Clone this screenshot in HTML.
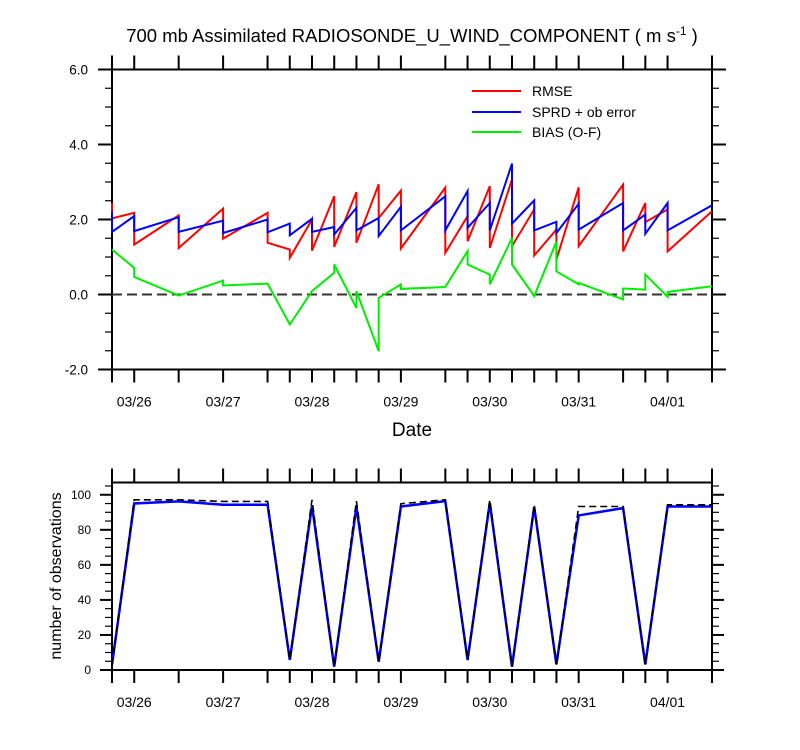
<!DOCTYPE html>
<html><head><meta charset="utf-8"><style>
html,body{margin:0;padding:0;background:#fff;}
svg{display:block;font-family:"Liberation Sans",sans-serif;}
</style></head><body>
<svg id="chart" width="800" height="750" viewBox="0 0 800 750"></svg>
<script>
// Data (hours since 03/25 18Z)
const times = [0,6,18,30,42,48,54,60,66,72,78,90,96,102,108,114,120,126,138,144,150,162];
const rmseIn  = [2.44,2.18,2.11,2.29,2.18,1.2,2.0,2.62,2.73,2.94,2.77,2.85,2.09,2.89,3.07,2.27,1.73,2.86,2.93,2.44,2.27,2.22];
const rmseOut = [2.03,1.33,1.24,1.49,1.38,0.98,1.17,1.27,1.38,2.04,1.23,1.11,1.42,1.24,1.29,1.04,0.93,1.29,1.15,1.93,1.15,2.22];
const sprdIn  = [2.22,2.09,2.06,1.97,2.0,1.89,2.02,1.8,2.31,2.04,2.34,2.62,2.76,2.44,3.49,2.51,1.94,2.42,2.44,2.13,2.44,2.38];
const sprdOut = [1.67,1.69,1.67,1.64,1.66,1.58,1.67,1.6,1.71,1.56,1.71,1.71,1.78,1.71,1.89,1.71,1.64,1.73,1.71,1.62,1.71,2.38];
const biasIn  = [1.2,0.71,-0.03,0.37,0.29,-0.8,0.09,0.58,-0.36,-1.51,0.27,0.2,1.16,0.53,1.51,-0.04,1.41,0.27,-0.13,0.13,-0.06,0.22];
const biasOut = [1.2,0.47,-0.03,0.24,0.29,-0.8,0.09,0.8,0.09,-0.09,0.15,0.2,0.8,0.27,0.8,-0.04,0.62,0.31,0.16,0.53,0.07,0.22];
const obsUsed = [3,95,96.2,94.3,94.3,5.7,93.9,1.9,93,4.7,93.3,96.4,5.7,95.4,1.9,93,3.2,88.2,92.4,3.2,93.3,93.3];
const obsPoss = [3,97.1,97.1,96.2,96.2,5.7,97.1,1.9,96.4,4.7,94.9,97.1,5.7,97.1,1.9,94.3,3.2,93.3,93.3,3.2,94.3,94.3];
const yTicksTop = [-2,0,2,4,6];
const yTicksBot = [0,20,40,60,80,100];
const dateLabels = ["03/26","03/27","03/28","03/29","03/30","03/31","04/01"];
const dateHours = [6,30,54,78,102,126,150];

const svg = document.getElementById('chart');
const NS = "http://www.w3.org/2000/svg";
function el(tag, attrs, parent){ const e=document.createElementNS(NS,tag); for(const k in attrs) e.setAttribute(k,attrs[k]); (parent||svg).appendChild(e); return e; }

const X0=112, X1=712, TMAX=162;
const xs = t => X0 + (X1-X0)*t/TMAX;
const T_TOP=69.5, T_BOT=369.5, T_MIN=-2, T_MAX=6;
const yt = v => T_BOT - (v-T_MIN)/(T_MAX-T_MIN)*(T_BOT-T_TOP);
const B_TOP=482.5, B_BOT=670, B_MAX=107;
const yb = v => B_BOT - v/B_MAX*(B_BOT-B_TOP);

// Title
let t = el('text',{x:412,y:42,'text-anchor':'middle','font-size':18.5,fill:'#000'});


t.innerHTML = '700 mb Assimilated RADIOSONDE_U_WIND_COMPONENT ( m s<tspan dy="-7" font-size="12">-1</tspan><tspan dy="7"> )</tspan>';

function frame(top,bot,name){
  const r = el('rect',{x:X0,y:top,width:X1-X0,height:bot-top,fill:'none',stroke:'#000','stroke-width':2});
  
  
  times.forEach(h=>{
    const x=xs(h);
    el('line',{x1:x,x2:x,y1:top,y2:top-14,stroke:'#000','stroke-width':2});
    el('line',{x1:x,x2:x,y1:bot,y2:bot+13,stroke:'#000','stroke-width':2});
  });
  dateHours.forEach((h,i)=>{
    const lb = el('text',{x:xs(h),y:bot+37,'text-anchor':'middle','font-size':14,fill:'#000'});
    
    
    lb.textContent = dateLabels[i];
  });
}

// ---- Top panel ----
frame(T_TOP,T_BOT,'top-plot-area');
for(let v=T_MIN; v<=T_MAX+0.001; v+=0.5){
  const y=yt(v), major = Math.abs(v%2)<0.001;
  const len = major?14:7;
  el('line',{x1:X0,x2:X0-len,y1:y,y2:y,stroke:'#000','stroke-width':major?2:1.2});
  el('line',{x1:X1,x2:X1+len,y1:y,y2:y,stroke:'#000','stroke-width':major?2:1.2});
}
yTicksTop.forEach(v=>{
  const lb=el('text',{x:88,y:yt(v)+5,'text-anchor':'end','font-size':13.5,fill:'#000'});
  
  
  lb.textContent=v.toFixed(1);
});
const zl = el('line',{x1:X0,x2:X1,y1:yt(0),y2:yt(0),stroke:'#333','stroke-width':2,'stroke-dasharray':'10,5'});



function sawPath(inA,outA){
  let d='';
  times.forEach((h,i)=>{
    const x=xs(h).toFixed(1);
    d += (i===0?'M':'L')+x+','+yt(inA[i]).toFixed(1)+' L'+x+','+yt(outA[i]).toFixed(1)+' ';
  });
  return d;
}
let p = el('path',{d:sawPath(rmseIn,rmseOut),fill:'none',stroke:'#ff0000','stroke-width':2});


p = el('path',{d:sawPath(sprdIn,sprdOut),fill:'none',stroke:'#0000ff','stroke-width':2});


p = el('path',{d:sawPath(biasIn,biasOut),fill:'none',stroke:'#00ee00','stroke-width':2});



// legend
const leg=[["RMSE","#ff0000",91],["SPRD + ob error","#0000ff",112],["BIAS (O-F)","#00ee00",132]];
leg.forEach(l=>{
  const g=el('g',{});
  
  
  el('line',{x1:472,x2:521,y1:l[2],y2:l[2],stroke:l[1],'stroke-width':2},g);
  const tx=el('text',{x:532,y:l[2]+5,'font-size':14,fill:'#000'},g);
  tx.textContent=l[0];
});
const xt=el('text',{x:412,y:436,'text-anchor':'middle','font-size':19,fill:'#000'});


xt.textContent='Date';

// ---- Bottom panel ----
frame(B_TOP,B_BOT,'bottom-plot-area');
for(let v=0; v<=105; v+=5){
  const y=yb(v), major=v%20===0;
  const len=major?12:7;
  el('line',{x1:X0,x2:X0-len,y1:y,y2:y,stroke:'#000','stroke-width':major?2:1.2});
  el('line',{x1:X1,x2:X1+len,y1:y,y2:y,stroke:'#000','stroke-width':major?2:1.2});
}
yTicksBot.forEach(v=>{
  const lb=el('text',{x:91,y:yb(v)+4,'text-anchor':'end','font-size':12,fill:'#000'});
  
  
  lb.textContent=v;
});
const yl=el('text',{x:0,y:0,'text-anchor':'middle','font-size':16,fill:'#000',transform:'translate(61,576) rotate(-90)'});


yl.textContent='number of observations';

function linePath(arr){ return times.map((h,i)=>(i?'L':'M')+xs(h).toFixed(1)+','+yb(arr[i]).toFixed(1)).join(' '); }
p=el('path',{d:linePath(obsUsed),fill:'none',stroke:'#0000ff','stroke-width':2.5});


p=el('path',{d:linePath(obsPoss),fill:'none',stroke:'#000','stroke-width':1.6,'stroke-dasharray':'7,4'});


</script>
</body></html>
